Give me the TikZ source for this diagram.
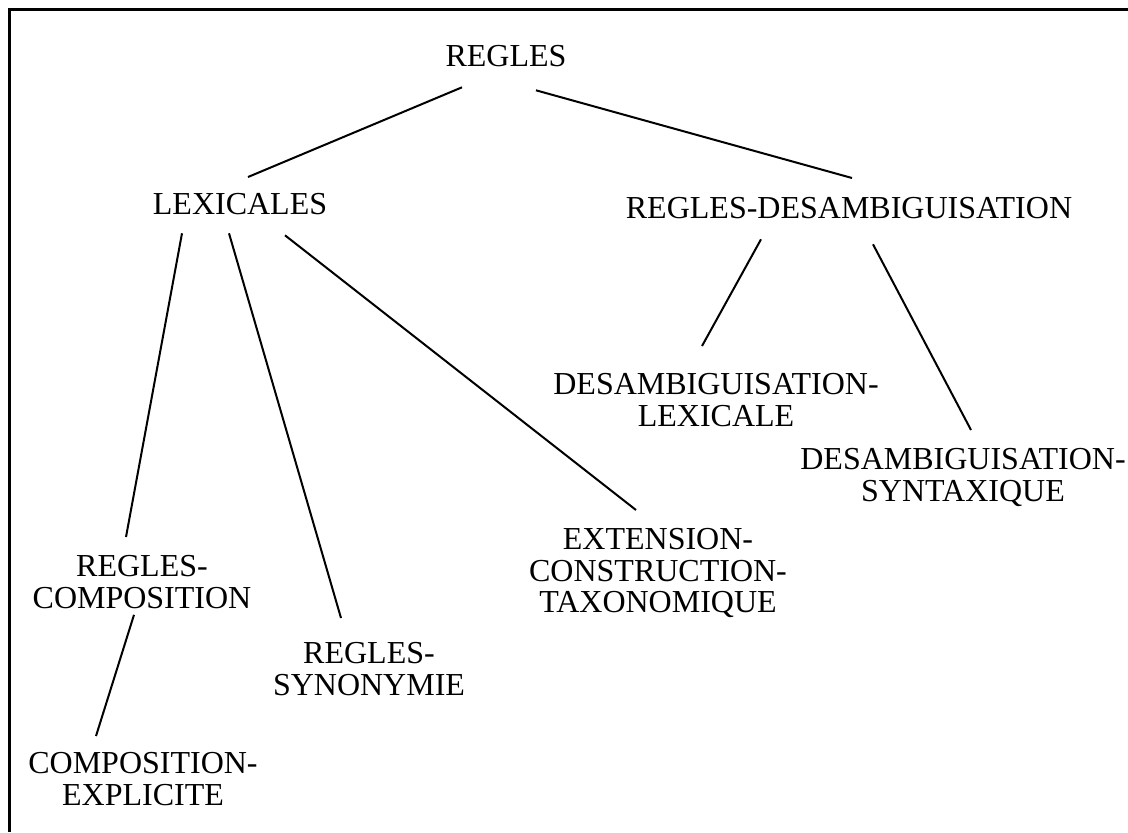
\documentclass[tikz,border=0pt]{standalone}
\usepackage{fontspec}
\setmainfont{Liberation Serif}
\tikzset{
  lab/.style={anchor=north, align=center, inner xsep=0pt, inner ysep=9pt,
    font=\fontsize{16}{15.75}\selectfont},
  branch/.style={line width=1pt}
}
\begin{document}
\begin{tikzpicture}[x=0.5pt,y=-0.5pt]

\useasboundingbox (0,0) rectangle (1128,832);
\draw[line width=1.5pt] (9,832) -- (9,9) -- (1128,9);

\node[lab] (regles) at (506,27) {REGLES};

\node[lab] (lexic) at (240,175) {LEXICALES};
\node[lab] (reglesDes) at (849,179) {REGLES-DESAMBIGUISATION};

\node[lab] (desLex) at (716,355) {DESAMBIGUISATION-\\LEXICALE};
\node[lab] (desSyn) at (963,430) {DESAMBIGUISATION-\\SYNTAXIQUE};

\node[lab] (reglesComp) at (142,537) {REGLES-\\COMPOSITION};
\node[lab] (reglesSyn) at (369,624) {REGLES-\\SYNONYMIE};
\node[lab] (extCons) at (658,510) {EXTENSION-\\CONSTRUCTION-\\TAXONOMIQUE};

\node[lab] (compExpl) at (143,734) {COMPOSITION-\\EXPLICITE};


\draw[branch] ([xshift=-22pt,yshift=-1pt]regles.south) --([xshift=4pt,yshift=-1pt]lexic.north);
\draw[branch] ([xshift=15pt,yshift=-2.5pt]regles.south) --([xshift=1.5pt,yshift=0.5pt]reglesDes.north);

\draw[branch] ([xshift=-29pt]lexic.south) --([xshift=-8pt]reglesComp.north);
\draw[branch] ([xshift=-5.5pt]lexic.south) --([xshift=-14pt,yshift=3pt]reglesSyn.north);
\draw[branch] ([xshift=22.5pt,yshift=-1pt]lexic.south) --([xshift=-11pt]extCons.north);

\draw[branch] ([xshift=-44pt,yshift=-1pt]reglesDes.south) --([xshift=-7pt,yshift=4.5pt]desLex.north);
\draw[branch] ([xshift=12pt,yshift=-3.5pt]reglesDes.south) --([xshift=4pt]desSyn.north);

\draw[branch] ([xshift=-4pt,yshift=6pt]reglesComp.south) --([xshift=-23.5pt,yshift=-1pt]compExpl.north);
\end{tikzpicture}
\end{document}
